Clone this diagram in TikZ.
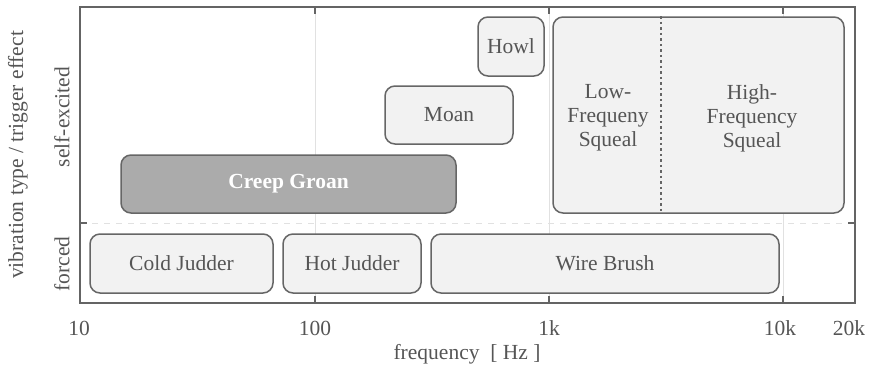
\documentclass[tikz,border=0pt]{standalone}
\usepackage{fontspec}
\setmainfont{Liberation Serif}
\definecolor{BandFill}{RGB}{242,242,242}
\definecolor{BandEdge}{RGB}{102,102,102}
\definecolor{GroanFill}{RGB}{171,171,171}
\definecolor{AxisGray}{RGB}{100,100,100}
\definecolor{GridGray}{RGB}{225,225,225}
\definecolor{LabelGray}{RGB}{85,85,85}
\tikzset{
  band/.style={
    draw=BandEdge,
    line width=1.5pt,
    rounded corners=10pt,
    fill=BandFill,
    text=LabelGray,
    align=center,
    inner sep=0pt,
    minimum height=59pt,
    font=\fontsize{21.5}{24}\selectfont
  },
  bandtext/.style={text=LabelGray,align=center,font=\fontsize{21.5}{24}\selectfont},
  axislabel/.style={text=LabelGray,font=\fontsize{21.5}{24}\selectfont},
  frame/.style={draw=AxisGray,line width=2pt},
  grid line/.style={draw=GridGray,line width=1pt},
  tick/.style={draw=AxisGray,line width=2pt}
}

\begin{document}
\begin{tikzpicture}[x=1pt,y=-1pt]
\useasboundingbox (0,0) rectangle (869,368);

% decade positions on the log axis
\coordinate (f10) at (80,303);
\coordinate (f100) at (315,303);
\coordinate (f1k) at (549,303);
\coordinate (f10k) at (783,303);
\coordinate (f20k) at (855,303);
\coordinate (split) at (80,223);

% grid
\foreach \f in {f100,f1k,f10k}
  \draw[grid line] (\f) -- (\f |- 0,6.5);
\draw[GridGray,line width=1pt,dash pattern=on 6pt off 6pt] (split) -- (split -| f20k);

% forced vibrations
\node[band,minimum width=183pt] (cold) at (181.5,263.5) {Cold Judder};
\node[band,minimum width=138pt] (hot) at (352,263.5) {Hot Judder};
\node[band,minimum width=348pt] (wire) at (605,263.5) {Wire Brush};

% self-excited vibrations
\node[band,minimum width=335pt,minimum height=58pt,fill=GroanFill,text=white,
  font=\fontsize{21.5}{24}\selectfont\bfseries] (groan) at (288.5,184) {Creep Groan};
\node[band,minimum width=128pt,minimum height=58pt] (moan) at (449,115) {Moan};
\node[band,minimum width=66pt] (howl) at (511,46.5) {Howl};
\node[band,minimum width=291pt,minimum height=196pt] (squeal) at (698.5,115) {};
\coordinate (squealsplit) at (661,115);
\draw[BandEdge,line width=1.5pt,dash pattern=on 2.5pt off 3pt]
  (squealsplit |- squeal.north) -- (squealsplit |- squeal.south);
\node[bandtext] (lowsq) at (608,118) {Low-\\Frequeny\\Squeal};
\node[bandtext] (highsq) at (752,118) {High-\\Frequency\\Squeal};

% frame and ticks
\draw[frame] (80,6.5) rectangle (855,303);
\foreach \f in {f100,f1k,f10k} {
  \draw[tick] (\f) -- ++(0,-7);
  \draw[tick] (\f |- 0,6.5) -- ++(0,7);
}
\draw[tick] (split) -- ++(7,0);
\draw[tick] (split -| f20k) -- ++(-7,0);

% axis labels
\node[axislabel] (t10) at (79,328) {10};
\node[axislabel] (t100) at (315,328) {100};
\node[axislabel] (t1k) at (549,328) {1k};
\node[axislabel] (t10k) at (780,328) {10k};
\node[axislabel] (t20k) at (849,328) {20k};
\node[axislabel] (xlabel) at (467,354) {frequency\ \ [ Hz ]};
\node[axislabel,rotate=90] (ylabel) at (18,155) {vibration type / trigger effect};
\node[axislabel,rotate=90] (selfex) at (62,117) {self-excited};
\node[axislabel,rotate=90] (forced) at (62,264) {forced};

\end{tikzpicture}
\end{document}
